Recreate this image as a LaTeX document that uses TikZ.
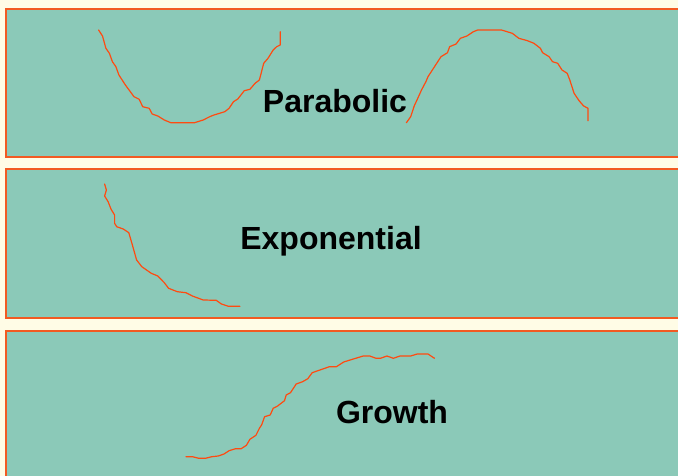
\documentclass[tikz,border=0pt]{standalone}
\usepackage{fontspec}
\setmainfont{Liberation Sans}
\definecolor{bgcream}{HTML}{FFFCE6}
\definecolor{panelteal}{HTML}{8BC9B8}
\definecolor{panelborder}{HTML}{F25A22}
\definecolor{curvecol}{HTML}{FF4A10}
\begin{document}
\begin{tikzpicture}[x=1pt,y=-1pt,
  panel/.style={fill=panelteal,draw=panelborder,line width=1.8pt},
  curve/.style={draw=curvecol,line width=1.2pt,line join=round,line cap=round},
  label/.style={font=\bfseries\fontsize{32}{36}\selectfont,text=black,anchor=base,inner sep=0pt}]
\useasboundingbox (0,0) rectangle (678,476);
\fill[bgcream] (0,0) rectangle (678,476);
% panels
\draw[panel] (6,9) rectangle (690,157);
\draw[panel] (6,169) rectangle (690,318);
\draw[panel] (6,331) rectangle (690,490);
% labels
\node[label] (parabolic) at (335,112.7) {Parabolic};
\node[label] (exponential) at (331,249.5) {Exponential};
\node[label] (growth) at (392,423) {Growth};
% U-shaped parabola
\draw[curve] plot coordinates {(98.6,30) (102.5,36) (105.9,48.3) (109.4,53.3) (112.4,61.7) (115.9,66.7) (118.9,75) (125.4,85) (134,96.7) (139.2,99.3) (142.7,106.7) (149.2,108.3) (152.2,114) (157.8,116) (164.3,120) (170.8,122.7) (194.6,122.7) (203.2,120) (209.7,116.7) (214,115) (224.8,111.7) (229.1,108.3) (233.5,101.7) (237.8,99) (244.3,90.7) (249.9,89.3) (255.1,83.3) (259.4,80) (263.7,63.3) (268,58.3) (273.2,50) (276.7,46.7) (280.2,45) (280.2,31.7)};
% inverted parabola
\draw[curve] plot coordinates {(406.4,122.7) (410.7,116.7) (414.2,106) (418.5,96.7) (421.5,90) (425.9,81.7) (428,76.7) (434.5,66.7) (441,56.7) (447.5,52.7) (449.6,46.7) (456.1,44) (460.4,38.3) (466.9,36) (473.4,31.7) (477.7,30) (501.5,30) (512.3,33.3) (518.8,38.3) (527.5,40.7) (533.9,43.3) (540.4,48.3) (542.6,52.7) (549.1,56.7) (552.5,61.7) (557.7,63.3) (562,70) (567.2,73.3) (569.8,80) (574.1,93.3) (579.3,101) (583.7,106) (588,108.3) (588,120.7)};
% exponential decay
\draw[curve] plot coordinates {(104.6,184) (106.4,190) (104.6,196) (108.1,201.7) (111.1,209.3) (114.6,215) (114.6,223.3) (116.7,226.7) (123.2,229) (128.8,232.7) (131.9,243.3) (136.6,260) (141.8,266.7) (151.3,273.3) (157.8,276) (164.3,282.7) (168.6,288.3) (177.3,291.7) (185.9,292.7) (192.4,296) (203.2,300) (216.2,300.3) (221.4,304) (228.3,306.3) (239.9,306.3)};
% growth curve
\draw[curve] plot coordinates {(185.9,456.7) (192.4,456.7) (198.9,458.3) (205.4,458.3) (211.8,456.7) (218.3,456) (224,454) (229.1,450.7) (235.6,448.7) (241.2,448.7) (246.4,445.3) (249.9,439.3) (255.9,435.3) (259.4,428.3) (261.6,425) (264.6,416.7) (270.2,415) (273.2,408.3) (277.6,406) (284.5,400.7) (286.2,395) (290.5,392.7) (296.2,384) (302.6,381.7) (307.8,378.7) (312.2,372.7) (319.9,370) (329.4,366.7) (336.4,366.7) (343.7,362) (352.4,359.3) (363.2,356) (369.7,356) (376.1,358.3) (380.5,358.3) (386.9,356) (393.4,358.3) (399.9,356) (410.7,356) (417.2,354) (428,354) (434.5,358.3)};
\end{tikzpicture}
\end{document}
